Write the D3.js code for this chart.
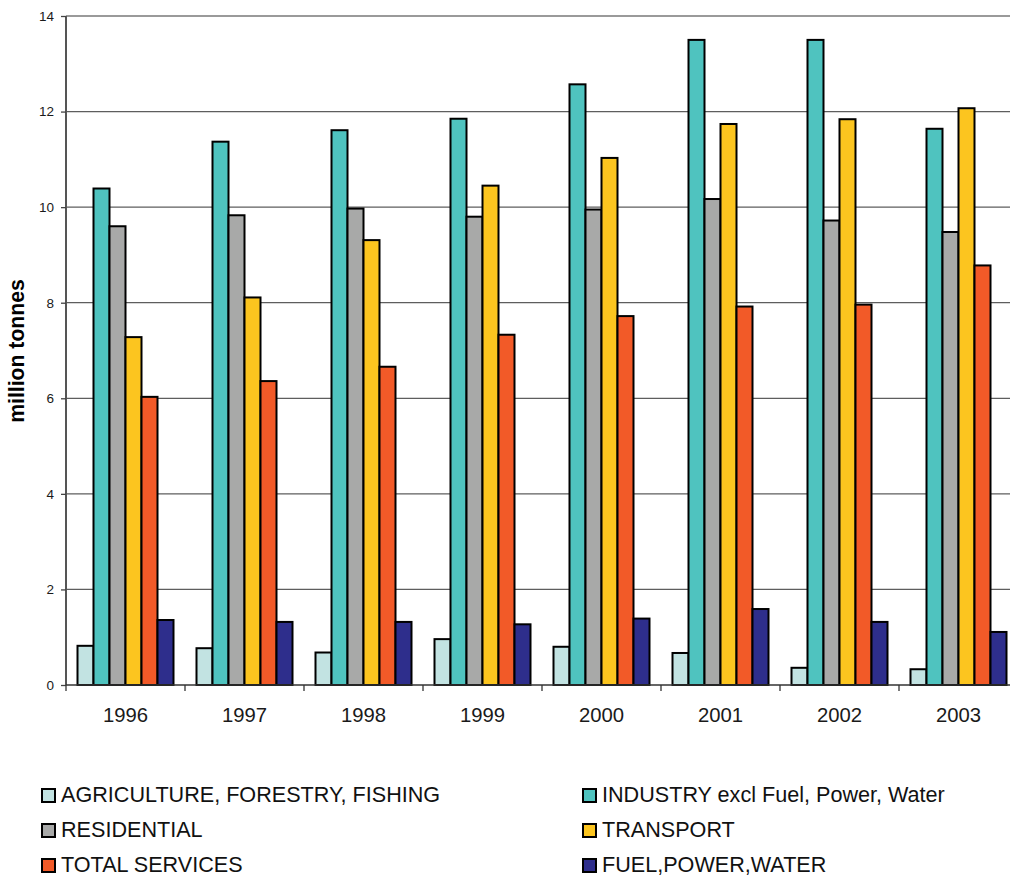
<!DOCTYPE html>
<html>
<head>
<meta charset="utf-8">
<script src="https://cdn.jsdelivr.net/npm/d3@7"></script>
<style>
  html, body { margin: 0; padding: 0; background: #fff; }
  svg { display: block; font-family: Arial, "Liberation Sans", sans-serif; }
</style>
</head>
<body>
<svg id="chart" width="1010" height="878"></svg>
<script>
const years = ["1996", "1997", "1998", "1999", "2000", "2001", "2002", "2003"];
const seriesNames = [
  "AGRICULTURE, FORESTRY, FISHING",
  "INDUSTRY excl Fuel, Power, Water",
  "RESIDENTIAL",
  "TRANSPORT",
  "TOTAL SERVICES",
  "FUEL,POWER,WATER"
];
const seriesColors = ["#c2e3e2", "#4fc3bf", "#a8a9a8", "#fcc51f", "#f25a28", "#2e2e8c"];
const agriculture = [0.82, 0.77, 0.68, 0.96, 0.80, 0.67, 0.36, 0.33];
const industry    = [10.39, 11.37, 11.61, 11.85, 12.57, 13.50, 13.50, 11.64];
const residential = [9.60, 9.83, 9.97, 9.80, 9.95, 10.17, 9.72, 9.48];
const transport   = [7.28, 8.11, 9.31, 10.45, 11.03, 11.74, 11.84, 12.07];
const services    = [6.03, 6.36, 6.66, 7.33, 7.72, 7.92, 7.96, 8.78];
const fuel        = [1.36, 1.32, 1.32, 1.27, 1.39, 1.59, 1.32, 1.11];
const yTicks = [0, 2, 4, 6, 8, 10, 12, 14];
const yTitle = "million tonnes";

const seriesValues = [agriculture, industry, residential, transport, services, fuel];

const svg = d3.select("#chart");
const x0 = d3.scaleBand().domain(years).range([66, 1018]).padding(0);
const x1 = d3.scaleBand().domain(d3.range(seriesNames.length)).range([11.5, 107.5]).padding(0);
const y = d3.scaleLinear().domain([0, 14]).range([685, 16]);

// gridlines
svg.append("g").selectAll("line").data(yTicks.filter(t => t > 0)).join("line")
  .attr("x1", 66).attr("x2", 1018)
  .attr("y1", d => y(d)).attr("y2", d => y(d))
  .attr("stroke", d => d === 14 ? "#9a9a9a" : "#5e5e5e")
  .attr("stroke-width", d => d === 14 ? 2 : 1.3);

// y axis
const yAxis = svg.append("g").attr("transform", "translate(66,0)")
  .call(d3.axisLeft(y).tickValues(yTicks).tickSize(5).tickPadding(7).tickFormat(d3.format("d")));
yAxis.select(".domain").attr("stroke", "#555").attr("stroke-width", 2).attr("d", "M0,16V685");
yAxis.selectAll(".tick line").attr("stroke", "#444").attr("stroke-width", 1.3);
yAxis.selectAll(".tick text").attr("font-size", 13.5).attr("fill", "#1a1a1a")
  .attr("font-family", "Arial, 'Liberation Sans', sans-serif");

// bars
const groups = svg.append("g").selectAll("g").data(years).join("g")
  .attr("transform", d => `translate(${x0(d)},0)`);
groups.selectAll("rect")
  .data((yr, i) => seriesValues.map((vals, s) => ({ s, v: vals[i] })))
  .join("rect")
  .attr("x", d => x1(d.s))
  .attr("width", x1.bandwidth())
  .attr("y", d => y(d.v))
  .attr("height", d => y(0) - y(d.v))
  .attr("fill", d => seriesColors[d.s])
  .attr("stroke", "#000")
  .attr("stroke-width", 2);

// x axis
const xAxis = svg.append("g").attr("transform", "translate(0,685)")
  .call(d3.axisBottom(x0).tickSize(0).tickPadding(23));
xAxis.select(".domain").attr("stroke", "#333").attr("stroke-width", 1.5).attr("d", "M66,0H1018");
xAxis.selectAll(".tick text").attr("font-size", 20.3).attr("fill", "#1a1a1a")
  .attr("font-family", "Arial, 'Liberation Sans', sans-serif");
svg.append("g").selectAll("line").data(years).join("line")
  .attr("x1", d => x0(d)).attr("x2", d => x0(d))
  .attr("y1", 685).attr("y2", 691)
  .attr("stroke", "#333").attr("stroke-width", 1.3);

// y title
svg.append("text")
  .attr("transform", "translate(24,351) rotate(-90)")
  .attr("text-anchor", "middle")
  .attr("font-size", 21.2)
  .attr("font-weight", "bold")
  .attr("fill", "#000")
  .text(yTitle);

// legend
const legendCols = [42, 583];
const legendRows = [802, 837, 872];
const leg = svg.append("g").selectAll("g").data(seriesNames).join("g")
  .attr("transform", (d, i) => `translate(${legendCols[i % 2]},${legendRows[Math.floor(i / 2)]})`);
leg.append("rect")
  .attr("x", 0).attr("y", -13).attr("width", 13).attr("height", 13)
  .attr("fill", (d, i) => seriesColors[i])
  .attr("stroke", "#000").attr("stroke-width", 2);
leg.append("text")
  .attr("x", 19).attr("y", 0)
  .attr("font-size", 21.6)
  .attr("fill", "#111")
  .text(d => d);
</script>
</body>
</html>
